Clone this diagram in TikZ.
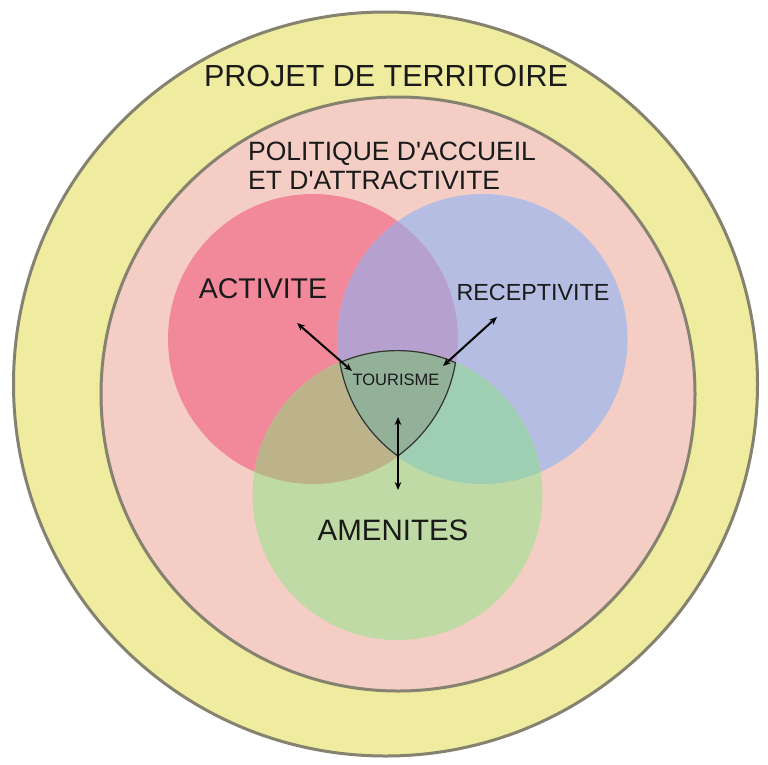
\documentclass[tikz,border=0pt]{standalone}
\usepackage{fontspec}
\setmainfont{Liberation Sans}
\usetikzlibrary{arrows.meta}
\definecolor{cyellow}{HTML}{EFEC9F}
\definecolor{cpink}{HTML}{F4CEC4}
\definecolor{cred}{HTML}{F2899B}
\definecolor{cblue}{HTML}{B5BEE2}
\definecolor{cgreen}{HTML}{BFDAA4}
\definecolor{crb}{HTML}{B6A0CF}
\definecolor{crg}{HTML}{BCB38B}
\definecolor{cbg}{HTML}{9FCFB3}
\definecolor{crbg}{HTML}{93B099}
\definecolor{cring}{HTML}{858270}
\definecolor{ctext}{HTML}{1A1A1A}
\tikzset{
  ring/.style={draw=cring, line width=3pt},
  lbl/.style={text=ctext, inner sep=0pt, anchor=base},
  link/.style={draw=black, line width=2pt, {Stealth[length=8pt,width=6.5pt]}-{Stealth[length=8pt,width=6.5pt]}},
}
\begin{document}
\begin{tikzpicture}[x=1pt,y=-1pt]
\useasboundingbox (0,0) rectangle (768,764);
\fill[white] (0,0) rectangle (768,764);
% rings
\path[ring, fill=cyellow] (385.5,384) circle[radius=372pt];
\path[ring, fill=cpink] (398,394) circle[radius=297pt];
% coordinates of circle centres
\coordinate (cr) at (313,339);
\coordinate (cb) at (482.5,339);
\coordinate (cg) at (397.5,495);
\def\rr{145pt}
% single circles
\fill[cred] (cr) circle[radius=\rr];
\fill[cblue] (cb) circle[radius=\rr];
\fill[cgreen] (cg) circle[radius=\rr];
% pairwise overlaps
\begin{scope}
  \clip (cr) circle[radius=\rr];
  \fill[crb] (cb) circle[radius=\rr];
  \fill[crg] (cg) circle[radius=\rr];
\end{scope}
\begin{scope}
  \clip (cb) circle[radius=\rr];
  \fill[cbg] (cg) circle[radius=\rr];
\end{scope}
% triple overlap
\begin{scope}
  \clip (cr) circle[radius=\rr];
  \clip (cb) circle[radius=\rr];
  \clip (cg) circle[radius=\rr];
  \fill[crbg] (cr) circle[radius=\rr];
  \draw[line width=2.4pt, draw=black!80] (cr) circle[radius=\rr] (cb) circle[radius=\rr] (cg) circle[radius=\rr];
\end{scope}
% texts
\node[lbl, font=\fontsize{30.5}{36}\selectfont] (projet) at (386,86) {PROJET DE TERRITOIRE};
\node[text=ctext, inner sep=0pt, anchor=north west, align=left, font=\fontsize{26.5}{29}\selectfont] (politique) at (248,142) {POLITIQUE D\textquotesingle ACCUEIL\\ET D\textquotesingle ATTRACTIVITE};
\node[lbl, font=\fontsize{28.5}{34}\selectfont] (activite) at (263,298) {ACTIVITE};
\node[lbl, font=\fontsize{23.3}{28}\selectfont] (receptivite) at (533,300) {RECEPTIVITE};
\node[lbl, font=\fontsize{29.5}{35}\selectfont] (amenites) at (393,540) {AMENITES};
\node[lbl, font=\fontsize{16.5}{20}\selectfont] (tourisme) at (396,385) {TOURISME};
% arrows
\coordinate (a1) at (297,323);
\coordinate (a2) at (352,371);
\coordinate (b1) at (497,317);
\coordinate (b2) at (443,366);
\coordinate (c1) at (398,417);
\coordinate (c2) at (398,490);
\path[link] (a1) -- (a2);
\path[link] (b1) -- (b2);
\path[link] (c1) -- (c2);
\end{tikzpicture}
\end{document}
